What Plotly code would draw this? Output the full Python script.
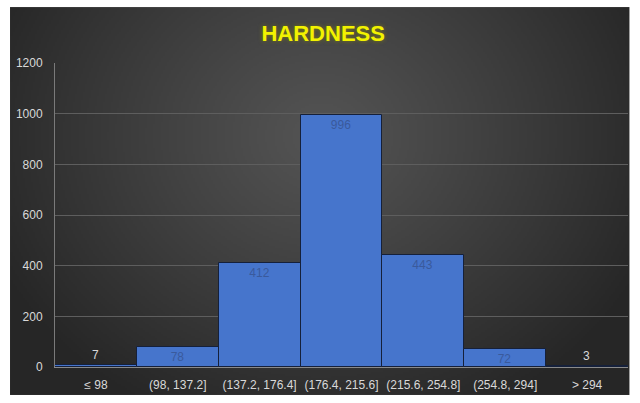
import base64, struct, zlib
import numpy as np
import plotly.graph_objects as go

categories = ["≤ 98", "(98, 137.2]", "(137.2, 176.4]", "(176.4, 215.6]",
              "(215.6, 254.8]", "(254.8, 294]", "> 294"]
counts = [7, 78, 412, 996, 443, 72, 3]
y_ticks = [0, 200, 400, 600, 800, 1000, 1200]

FONT = "Liberation Sans Narrow, Liberation Sans"


def png_data_uri(arr):
    h, w, _ = arr.shape
    raw = b"".join(b"\x00" + arr[i].tobytes() for i in range(h))

    def chunk(tag, data):
        c = struct.pack(">I", len(data)) + tag + data
        return c + struct.pack(">I", zlib.crc32(tag + data) & 0xffffffff)

    png = b"\x89PNG\r\n\x1a\n" + chunk(b"IHDR", struct.pack(">IIBBBBB", w, h, 8, 2, 0, 0, 0))
    png += chunk(b"IDAT", zlib.compress(raw, 9)) + chunk(b"IEND", b"")
    return "data:image/png;base64," + base64.b64encode(png).decode()


# radial gradient background (decoration)
W, H = 310, 194
yy, xx = np.mgrid[0:H, 0:W]
d = np.sqrt(((xx - W * 0.5) / (W * 0.58)) ** 2 + ((yy - H * 0.33) / (H * 0.8)) ** 2)
d = np.clip(d, 0, 1)
c_center, c_edge = 84, 38
val = (c_center + (c_edge - c_center) * d ** 1.1).astype(np.uint8)
bg = np.stack([val, val, val], axis=-1)
bg_uri = png_data_uri(bg)

text_pos = ["outside" if v < 40 else "inside" for v in counts]

fig = go.Figure(go.Bar(
    x=categories, y=counts, text=[str(v) for v in counts],
    textposition=text_pos, insidetextanchor="end", textangle=0, constraintext="none",
    insidetextfont=dict(color="#3a5a9c", size=12, family=FONT),
    outsidetextfont=dict(color="#d9d9d9", size=12, family=FONT),
    marker=dict(color="#4675cc", line=dict(color="#15203a", width=1)),
    cliponaxis=False,
))

fig.update_layout(
    width=640, height=403,
    margin=dict(l=55, r=12, t=63, b=36),
    paper_bgcolor="white", plot_bgcolor="rgba(0,0,0,0)",
    bargap=0, showlegend=False,
    title=dict(text="<b>HARDNESS</b>", x=0.505, xanchor="center", y=0.918, yanchor="middle",
               font=dict(size=22, color="#f2f200", family=FONT,
                         shadow="0px 0px 4px #7a7a10")),
    images=[dict(source=bg_uri, xref="paper", yref="paper", x=-0.0785, y=1.184,
                 sizex=1.081, sizey=1.276, sizing="stretch", layer="below",
                 xanchor="left", yanchor="top")],
    xaxis=dict(showgrid=False, showline=True, linecolor="#8a8a8a", linewidth=1,
               tickfont=dict(color="#d9d9d9", size=12, family=FONT),
               ticks="", ticklabelstandoff=7),
    yaxis=dict(range=[0, 1200], tickvals=y_ticks, showgrid=True, gridcolor="#5e5e5e", gridwidth=1,
               showline=True, linecolor="#7a7a7a", linewidth=1, zeroline=False,
               tickfont=dict(color="#d9d9d9", size=12, family=FONT),
               ticks="", ticklabelstandoff=9),
)

fig.write_html("out.html")
